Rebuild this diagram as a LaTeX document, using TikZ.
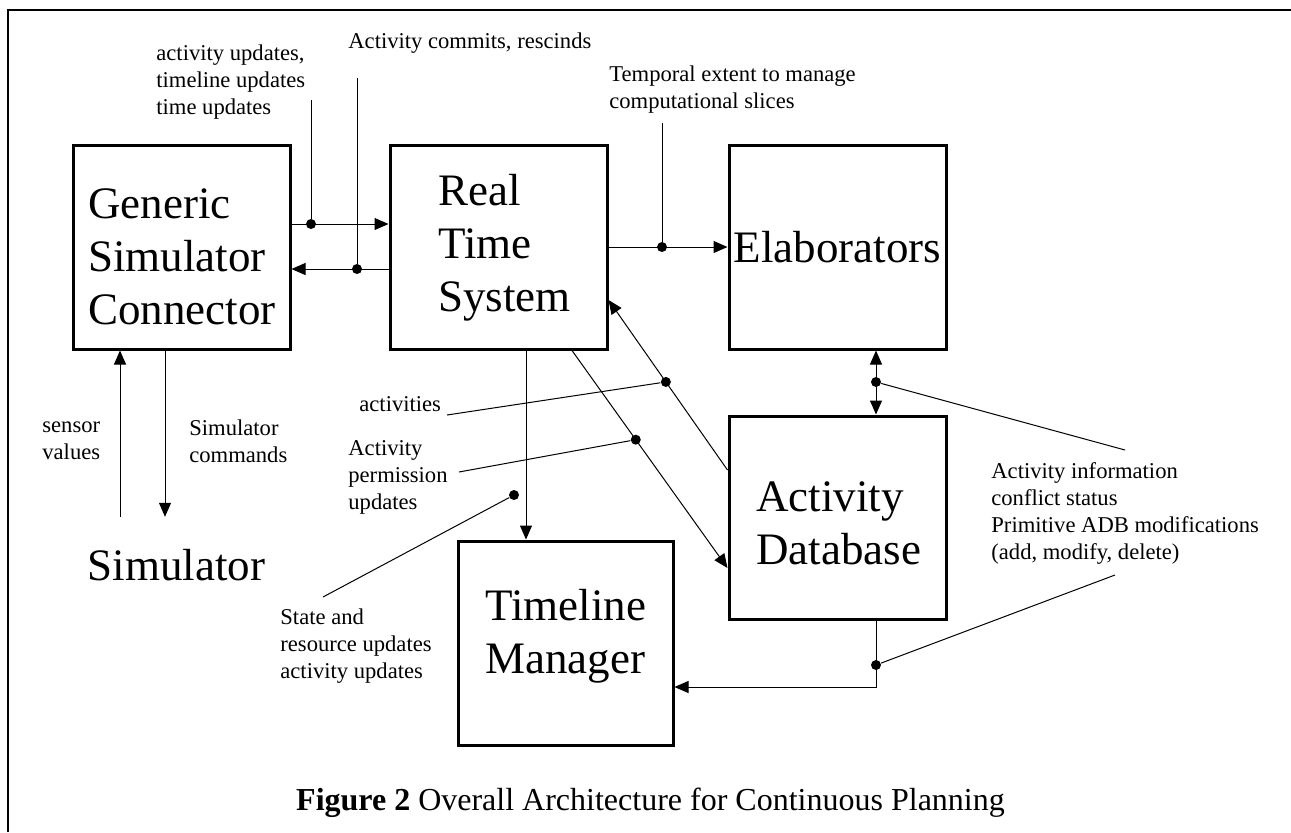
\documentclass[tikz,border=0pt]{standalone}
\usepackage{fontspec}
\setmainfont{Liberation Serif}
\usetikzlibrary{arrows.meta}
\usetikzlibrary{positioning}

\tikzset{
  blk/.style={draw,line width=1.5pt,minimum width=108.5pt,minimum height=102pt,inner sep=0pt},
  bigtxt/.style={font=\fontsize{22.5}{26.5}\selectfont,align=left,inner sep=0pt,anchor=west},
  smalltxt/.style={font=\fontsize{11.3}{13.5}\selectfont,align=left,inner sep=0pt,anchor=west},
  jdot/.style={circle,fill,inner sep=0pt,minimum size=5pt},
  flow/.style={line width=0.5pt,-{Triangle[length=7pt,width=6pt]}},
  flowboth/.style={line width=0.5pt,{Triangle[length=7pt,width=6pt]}-{Triangle[length=7pt,width=6pt]}},
  lead/.style={line width=0.5pt}
}

\begin{document}
\begin{tikzpicture}[x=0.5pt,y=-0.5pt]
      \useasboundingbox (0,0) rectangle (1291,832);
      \draw[line width=1.2pt] (8,832) -- (8,10) -- (1291,10);
      %% blocks
      \node[blk] (GSC) at (181.5,247) {};
      \node[blk] (RTS) at (498.5,247) {};
      \node[blk,font=\fontsize{22.5}{26.5}\selectfont] (EL) at (837.5,247) {Elaborators};
      \node[blk,minimum height=101.5pt] (ADB) at (837.5,517.5) {};
      \node[blk,minimum width=107.5pt] (TLM) at (565.5,643) {};
      \node[bigtxt] (tGSC) at (88,257) {Generic\\Simulator\\Connector};
      \node[bigtxt] (tRTS) at (438,248) {Real\\Time\\System};
      \node[bigtxt] (tADB) at (756,523) {Activity\\Database};
      \node[bigtxt] (tTLM) at (485,636) {Timeline\\Manager};
      \node[bigtxt,anchor=center,inner ysep=16pt] (SIM) at (176.5,565) {Simulator};
      %% labels
      \node[smalltxt] (lUpd) at (156,82) {activity updates,\\timeline updates\\time updates};
      \node[smalltxt] (lCom) at (348,43) {Activity commits, rescinds};
      \node[smalltxt] (lTmp) at (609,90) {Temporal extent to manage\\computational slices};
      \node[smalltxt] (lSen) at (42,441) {sensor\\values};
      \node[smalltxt] (lCmd) at (189,441) {Simulator\\commands};
      \node[smalltxt] (lAct) at (359,404) {activities};
      \node[smalltxt] (lPer) at (348,477) {Activity\\permission\\updates};
      \node[smalltxt] (lSta) at (280,646) {State and\\resource updates\\activity updates};
      \node[smalltxt] (lInf) at (991,513) {Activity information\\conflict status\\Primitive ADB modifications\\(add, modify, delete)};
      \node[font=\fontsize{16}{19}\selectfont,inner sep=0pt] (CAP) at (650.5,803)
           {\textbf{Figure 2} Overall Architecture for Continuous Planning};
      %% junction dots
      \node[jdot] (DA) at (311,224) {};
      \node[jdot] (DB) at (357,269) {};
      \node[jdot] (DC) at (662,247) {};
      \node[jdot] (DF) at (514,495) {};
      \node[jdot] (DG) at (876,382) {};
      \node[jdot] (DH) at (876,665) {};
      %% free ends of leader lines
      \coordinate (EA) at (311,100);
      \coordinate (EB) at (357,78);
      \coordinate (EC) at (662,123);
      \coordinate (ED) at (447,415);
      \coordinate (EE) at (459,472);
      \coordinate (EF) at (323,597);
      \coordinate (EG) at (1125,450);
      \coordinate (EH) at (1115,575);
      %% flows
      \draw[flow] (GSC.east |- DA) -- (RTS.west |- DA);
      \draw[flow] (RTS.west |- DB) -- (GSC.east |- DB);
      \draw[flow] (RTS.east |- DC) -- (EL.west |- DC);
      \draw[flowboth] (EL.south -| DG) -- (ADB.north -| DG);
      \draw[flow] (ADB.south -| DH) |- ([yshift=-22pt]TLM.east);
      \draw[flow] ([xshift=13.75pt]RTS.south) -- ([xshift=-19.75pt]TLM.north);
      \draw[flow] ([xshift=36.75pt]RTS.south) -- node[jdot,pos=0.41] (DE) {} ([yshift=-25.25pt]ADB.west);
      \draw[flow] ([yshift=23.75pt]ADB.west) -- node[jdot,pos=0.518] (DD) {} ([yshift=-26.5pt]RTS.east);
      \draw[flow] ([xshift=-8.25pt]GSC.south) -- ([xshift=-5.75pt]SIM.north);
      \draw[flow] ([xshift=-28.25pt]SIM.north) -- ([xshift=-30.75pt]GSC.south);
      %% leaders
      \draw[lead] (EA) -- (DA);
      \draw[lead] (EB) -- (DB);
      \draw[lead] (EC) -- (DC);
      \draw[lead] (ED) -- (DD);
      \draw[lead] (EE) -- (DE);
      \draw[lead] (EF) -- (DF);
      \draw[lead] (EG) -- (DG);
      \draw[lead] (EH) -- (DH);
\end{tikzpicture}
\end{document}
